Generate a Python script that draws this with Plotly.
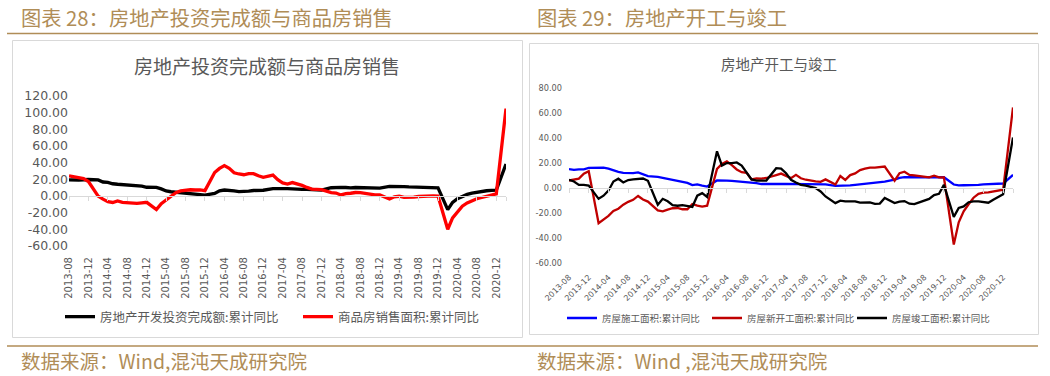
import plotly.graph_objects as go
import pandas as pd

W, H = 1050, 376

# ---------------- data ----------------
months = [p.strftime("%Y-%m") for p in pd.period_range("2013-08", "2021-02", freq="M")]
tick_labels = months[::4][:23]

# left chart: 房地产开发投资完成额 / 商品房销售面积 (累计同比 %)
invest = [
    19.3, 19.7, 19.2, 19.5, 19.8,
    None, 19.3, 16.8, 16.4, 14.7, 14.1, 13.7, 13.2, 12.5, 12.4, 11.9, 10.5,
    None, 10.4, 8.5, 6.0, 5.1, 4.6, 4.3, 3.5, 2.6, 2.0, 1.3, 1.0,
    None, 3.0, 6.2, 7.2, 7.0, 6.1, 5.3, 5.4, 5.8, 6.6, 6.5, 6.9,
    None, 8.9, 9.1, 9.3, 8.8, 8.5, 7.9, 7.9, 8.1, 7.8, 7.5, 7.0,
    None, 9.9, 10.4, 10.3, 10.2, 9.7, 10.2, 10.1, 9.9, 9.7, 9.7, 9.5,
    None, 11.6, 11.8, 11.9, 11.2, 10.9, 10.6, 10.5, 10.5, 10.3, 10.2, 9.9,
    None, -16.3, -7.7, -3.3, -0.3, 1.9, 3.4, 4.6, 5.6, 6.3, 6.8, 7.0,
    None, 38.3,
]
sales = [
    24.1, 22.7, 21.8, 20.8, 17.3,
    None, -0.1, -3.8, -6.8, -7.8, -6.0, -7.6, -8.3, -8.6, -8.9, -8.2, -7.6,
    None, -16.3, -9.2, -4.8, -0.2, 3.9, 6.1, 7.2, 7.5, 7.2, 7.4, 6.5,
    None, 28.2, 33.1, 36.5, 33.2, 27.9, 26.4, 25.5, 26.9, 26.8, 24.3, 22.5,
    None, 25.1, 19.5, 15.7, 14.3, 16.1, 14.7, 12.7, 10.3, 8.2, 7.9, 7.7,
    None, 4.1, 3.6, 1.3, 2.9, 3.3, 4.2, 4.0, 2.9, 2.2, 1.4, 1.3,
    None, -3.6, -0.9, -0.3, -1.6, -1.8, -1.3, -0.6, -0.1, 0.1, 0.2, -0.1,
    None, -39.9, -26.3, -19.3, -12.3, -8.4, -5.8, -3.3, -1.8, 0.0, 1.3, 2.6,
    None, 104.9,
]

# right chart: 房屋施工 / 新开工 / 竣工面积 (累计同比 %)
construction = [
    15.2, 14.5, 15.0, 15.0, 16.1,
    None, 16.3, 16.4, 15.5, 14.0, 13.0, 12.2, 12.0, 12.0, 12.5, 11.0, 9.6,
    None, 9.0, 8.2, 7.5, 6.6, 6.0, 5.0, 4.2, 2.5, 3.0, 2.1, 1.3,
    None, 6.1, 6.2, 6.0, 5.8, 5.5, 5.2, 4.5, 4.3, 4.0, 3.3, 3.2,
    None, 3.2, 3.3, 3.4, 3.4, 3.5, 3.5, 3.5, 3.6, 3.5, 3.2, 3.0,
    None, 1.8, 1.8, 1.9, 2.2, 2.6, 3.0, 3.6, 3.8, 4.2, 4.8, 5.2,
    None, 6.8, 8.2, 8.8, 8.8, 8.8, 8.8, 8.8, 8.7, 9.0, 8.7, 8.7,
    None, 2.9, 2.2, 2.3, 2.3, 2.5, 2.6, 3.0, 3.1, 3.0, 3.2, 3.7,
    None, 10.6,
]
new_starts = [
    6.1, 7.0, 7.6, 11.5, 13.5,
    None, -27.9, -25.2, -22.1, -18.2, -16.4, -13.2, -10.9, -9.3, -6.2, -9.0, -10.7,
    None, -17.7, -18.4, -17.1, -16.0, -15.8, -16.8, -16.8, -12.6, -13.9, -14.7, -14.0,
    None, 15.3, 19.2, 21.4, 18.3, 14.9, 12.7, 12.2, 6.9, 7.7, 7.6, 8.1,
    None, 10.4, 11.6, 9.8, 8.0, 10.6, 7.9, 6.7, 5.8, 5.4, 5.0, 7.0,
    None, 2.9, 9.7, 6.6, 10.4, 11.8, 14.4, 15.5, 16.4, 16.3, 16.8, 17.2,
    None, 6.0, 11.9, 13.1, 10.5, 10.1, 9.5, 8.9, 8.6, 10.0, 8.6, 8.5,
    None, -44.9, -27.2, -18.4, -12.8, -7.6, -4.5, -3.6, -3.4, -2.6, -2.0, -1.2,
    None, 64.3,
]
completions = [
    6.6, 5.3, 2.6, 2.6, 2.0,
    None, -8.5, -6.0, -2.0, 5.3, 7.5, 4.5, 6.5, 7.0, 7.5, 7.7, 5.9,
    None, -13.2, -8.5, -10.5, -13.5, -14.0, -13.5, -14.0, -15.0, -6.0, -4.0, -7.0,
    None, 29.3, 18.0, 20.0, 20.0, 20.5, 18.0, 12.0, 7.0, 6.0, 6.0, 6.1,
    None, 15.9, 15.6, 11.9, 6.6, 4.5, 2.6, 2.1, 0.8, 0.0, -2.6, -6.6,
    None, -11.9, -10.0, -10.5, -10.6, -10.6, -11.6, -11.6, -11.4, -12.5, -12.3, -7.8,
    None, -11.9, -10.8, -10.3, -12.4, -12.7, -11.3, -10.0, -8.6, -5.5, -4.5, 2.6,
    None, -22.9, -15.8, -14.5, -11.2, -10.5, -10.5, -10.8, -11.6, -9.2, -7.3, -4.9,
    None, 40.4,
]

# ---------------- layout helpers ----------------
def fx(p):
    return p / W

def fy(p):
    return 1 - p / H

GRAY_TXT = "#595959"
AXIS_GRAY = "#d9d9d9"
GOLD = "#B08D57"
CJK = "Noto Sans CJK SC"
NUM = "DejaVu Sans, Noto Sans CJK SC"

idx = list(range(len(months)))
tickvals = idx[::4][:23]

# left plot geometry (pixels)
L_x0, L_x1 = 69, 506
L_ytop, L_ybot = 96, 246
L_range = [-60, 120]
# right plot geometry
R_x0, R_x1 = 569, 1013
R_ytop, R_ybot = 87.7, 263.5
R_range = [-60, 80]

def zero_pos(ytop, ybot, rng):
    d0, d1 = fy(ybot), fy(ytop)
    return d0 + (0 - rng[0]) / (rng[1] - rng[0]) * (d1 - d0)

fig = go.Figure()

fig.add_trace(go.Scatter(x=idx, y=invest, mode="lines", name="房地产开发投资完成额:累计同比",
                         line=dict(color="#000000", width=3.3), connectgaps=True,
                         xaxis="x", yaxis="y", legend="legend"))
fig.add_trace(go.Scatter(x=idx, y=sales, mode="lines", name="商品房销售面积:累计同比",
                         line=dict(color="#FF0000", width=3.3), connectgaps=True,
                         xaxis="x", yaxis="y", legend="legend"))

fig.add_trace(go.Scatter(x=idx, y=construction, mode="lines", name="房屋施工面积:累计同比",
                         line=dict(color="#0000FF", width=2.3), connectgaps=True,
                         xaxis="x2", yaxis="y2", legend="legend2"))
fig.add_trace(go.Scatter(x=idx, y=new_starts, mode="lines", name="房屋新开工面积:累计同比",
                         line=dict(color="#C00000", width=2.3), connectgaps=True,
                         xaxis="x2", yaxis="y2", legend="legend2"))
fig.add_trace(go.Scatter(x=idx, y=completions, mode="lines", name="房屋竣工面积:累计同比",
                         line=dict(color="#000000", width=2.3), connectgaps=True,
                         xaxis="x2", yaxis="y2", legend="legend2"))

# invisible helpers for the zero-line axes
fig.add_trace(go.Scatter(x=[0], y=[0], mode="markers", marker=dict(opacity=0), showlegend=False,
                         hoverinfo="skip", xaxis="x3", yaxis="y"))
fig.add_trace(go.Scatter(x=[0], y=[0], mode="markers", marker=dict(opacity=0), showlegend=False,
                         hoverinfo="skip", xaxis="x4", yaxis="y2"))

ylabels_L = list(range(-60, 121, 20))
ylabels_R = list(range(-60, 81, 20))

fig.update_layout(
    width=W, height=H, margin=dict(l=0, r=0, t=0, b=0, pad=0, autoexpand=False),
    paper_bgcolor="white", plot_bgcolor="rgba(0,0,0,0)",
    font=dict(family=NUM, color=GRAY_TXT),
    xaxis=dict(domain=[fx(L_x0), fx(L_x1)], range=[0, len(idx) - 1], anchor="y",
               tickmode="array", tickvals=tickvals, ticktext=tick_labels, tickangle=-90,
               tickfont=dict(size=10, color=GRAY_TXT), showgrid=False, zeroline=False,
               showline=False, ticks="outside", ticklen=6, tickcolor="rgba(0,0,0,0)",
               automargin=False),
    yaxis=dict(domain=[fy(L_ybot), fy(L_ytop)], range=L_range, anchor="x",
               tickmode="array", tickvals=ylabels_L, ticktext=[f"{v:.2f}" for v in ylabels_L],
               tickfont=dict(size=12.5, color=GRAY_TXT), showgrid=False, zeroline=False,
               showline=False, ticks="", automargin=False),
    xaxis3=dict(overlaying="x", anchor="free", position=zero_pos(L_ytop, L_ybot, L_range),
                range=[0, len(idx) - 1], tickmode="array", tickvals=tickvals + [len(idx) - 1],
                showticklabels=False, ticks="outside", ticklen=4, tickcolor=AXIS_GRAY,
                showline=True, linecolor=AXIS_GRAY, linewidth=1, showgrid=False, zeroline=False,
                automargin=False),
    xaxis2=dict(domain=[fx(R_x0), fx(R_x1)], range=[0, len(idx) - 1], anchor="y2",
                tickmode="array", tickvals=tickvals, ticktext=tick_labels, tickangle=-45,
                tickfont=dict(size=8, color=GRAY_TXT), showgrid=False, zeroline=False,
                showline=False, ticks="outside", ticklen=5, tickcolor="rgba(0,0,0,0)",
                automargin=False),
    yaxis2=dict(domain=[fy(R_ybot), fy(R_ytop)], range=R_range, anchor="x2",
                tickmode="array", tickvals=ylabels_R, ticktext=[f"{v:.2f}" for v in ylabels_R],
                tickfont=dict(size=8.2, color=GRAY_TXT), showgrid=False, zeroline=False,
                showline=False, ticks="", automargin=False, ticklabelstandoff=6),
    xaxis4=dict(overlaying="x2", anchor="free", position=zero_pos(R_ytop, R_ybot, R_range),
                range=[0, len(idx) - 1], tickmode="array", tickvals=tickvals + [len(idx) - 1],
                showticklabels=False, ticks="outside", ticklen=4, tickcolor=AXIS_GRAY,
                showline=True, linecolor=AXIS_GRAY, linewidth=1, showgrid=False, zeroline=False,
                automargin=False),
    legend=dict(orientation="h", x=fx(60), y=fy(317), xanchor="left", yanchor="middle",
                font=dict(family=CJK, size=12.5, color=GRAY_TXT), bgcolor="rgba(0,0,0,0)",
                itemwidth=30, entrywidth=193),
    legend2=dict(orientation="h", x=fx(562), y=fy(318), xanchor="left", yanchor="middle",
                 font=dict(family=CJK, size=9.5, color=GRAY_TXT), bgcolor="rgba(0,0,0,0)",
                 itemwidth=30, entrywidth=100),
    showlegend=True,
)

shapes = [
    # chart frames
    dict(type="rect", xref="paper", yref="paper", x0=fx(12.5), x1=fx(522.5), y0=fy(337.5), y1=fy(40.5),
         line=dict(color=AXIS_GRAY, width=1)),
    dict(type="rect", xref="paper", yref="paper", x0=fx(529.5), x1=fx(1038.5), y0=fy(334.5), y1=fy(43.5),
         line=dict(color=AXIS_GRAY, width=1)),
    # header / footer rules
    dict(type="line", xref="paper", yref="paper", x0=fx(7), x1=fx(1038), y0=fy(33.5), y1=fy(33.5),
         line=dict(color=GOLD, width=1.5)),
    dict(type="line", xref="paper", yref="paper", x0=fx(7), x1=fx(1038), y0=fy(346), y1=fy(346),
         line=dict(color=GOLD, width=1.5)),
]
fig.update_layout(shapes=shapes)

annotations = [
    dict(text="图表 28：房地产投资完成额与商品房销售", x=fx(19), y=fy(17), xanchor="left", yanchor="middle",
         font=dict(family=CJK, size=20.3, color=GOLD)),
    dict(text="图表 29：房地产开工与竣工", x=fx(535), y=fy(17), xanchor="left", yanchor="middle",
         font=dict(family=CJK, size=20.3, color=GOLD)),
    dict(text="房地产投资完成额与商品房销售", x=fx(267), y=fy(66), xanchor="center", yanchor="middle",
         font=dict(family=CJK, size=19, color=GRAY_TXT)),
    dict(text="房地产开工与竣工", x=fx(779), y=fy(63), xanchor="center", yanchor="middle",
         font=dict(family=CJK, size=14.5, color=GRAY_TXT)),
    dict(text="数据来源：Wind,混沌天成研究院", x=fx(19), y=fy(360), xanchor="left", yanchor="middle",
         font=dict(family=CJK, size=19.5, color=GOLD)),
    dict(text="数据来源：Wind ,混沌天成研究院", x=fx(535), y=fy(360), xanchor="left", yanchor="middle",
         font=dict(family=CJK, size=19.5, color=GOLD)),
]
for a in annotations:
    a.update(xref="paper", yref="paper", showarrow=False)
fig.update_layout(annotations=annotations)

fig.write_html("out.html", config={"displayModeBar": False},
               post_script="document.body.style.margin='0';document.body.style.overflow='hidden';")
